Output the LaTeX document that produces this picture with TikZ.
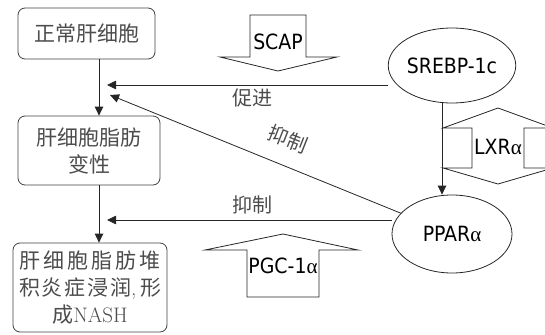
\documentclass[tikz,border=0pt]{standalone}
\usepackage{fontspec}
\newfontfamily\cjk{Noto Sans CJK SC}
\newfontfamily\lat{DejaVu Sans Condensed}
\newfontfamily\grk{Liberation Serif}
\usetikzlibrary{shapes.geometric,arrows.meta}
\begin{document}
\begin{tikzpicture}[x=1pt,y=-1pt,
  box/.style={draw=black!75,line width=0.8pt,rounded corners=7pt,inner sep=0pt,
    font=\cjk\fontsize{21}{27}\selectfont,text=black!70,align=center},
  oval/.style={draw=black!85,line width=0.8pt,ellipse,inner sep=0pt,
    minimum width=120pt,minimum height=75pt,font=\lat\fontsize{21}{25}\selectfont},
  conn/.style={draw=black!85,line width=0.8pt},
  arr/.style={conn,-{Triangle[length=9pt,width=8.5pt]}},
  lbl/.style={font=\cjk\fontsize{20}{24}\selectfont,text=black!70,inner sep=0pt},
  fat/.style={draw=black!85,line width=0.8pt,fill=white},
  fattxt/.style={font=\lat\fontsize{21}{25}\selectfont,inner sep=0pt}]
\useasboundingbox (0,0) rectangle (545,334);
% boxes
\node[box,minimum width=137pt,minimum height=51pt] (b1) at (86.5,33.5) {正常肝细胞};
\node[box,minimum width=142pt,minimum height=69pt] (b2) at (89,150.5) {肝细胞脂肪\\变性};
\node[box,minimum width=154pt,minimum height=89pt] (b3) at (90,287.5)
  {\makebox[142pt][s]{肝\hfill 细\hfill 胞\hfill 脂\hfill 肪\hfill 堆}\\
   \makebox[142pt][s]{积\hfill 炎\hfill 症\hfill 浸\hfill 润{\rmfamily,}\hfill\hfill 形}\\
   成{\rmfamily NASH}};
% ellipses
\node[oval] (srebp) at (452,65.5) {SREBP-1c};
\node[oval,minimum height=78pt] (ppar) at (452,234) {PPAR{\grk α}};
% helper coordinates
\coordinate (ax) at (99,0);
\coordinate (vx) at (442,0);
\coordinate (t1) at (107,85);
\coordinate (t2) at (110,95);
\coordinate (t3) at (107,220);
% vertical arrows
\draw[arr] (b1.south -| ax) -- (b2.north -| ax);
\draw[arr] (b2.south -| ax) -- (b3.north -| ax);
% LXR shape (behind vertical)
\draw[fat] (498,108) -- (553,128) -- (524,128) -- (524,168) -- (553,168) -- (498,184)
  -- (443,168) -- (472,168) -- (472,128) -- (443,128) -- cycle;
\node[fattxt] (lxr) at (498,147) {LXR{\grk α}};
\draw[arr] (srebp.south -| vx) -- (ppar.north -| vx);
% horizontal connectors
\draw[arr] (t1 -| srebp.west) -- (t1);
\draw[arr] (ppar) -- (t2);
\draw[arr] (t3 -| ppar.west) -- (t3);
% labels
\node[lbl] (l1) at (252,98) {促进};
\node[lbl,rotate=-21.6] (l2) at (288,139) {抑制};
\node[lbl] (l3) at (252,205) {抑制};
% SCAP down arrow
\draw[fat] (250,15) -- (306,15) -- (306,57) -- (337,57) -- (278,71) -- (220,57) -- (250,57) -- cycle;
\node[fattxt] (scap) at (278,42) {SCAP};
% PGC-1a up arrow
\draw[fat] (283,234) -- (358,250) -- (319,250) -- (319,297) -- (247,297) -- (247,250) -- (205,250) -- cycle;
\node[fattxt] (pgc) at (283,266) {PGC-1{\grk α}};
\end{tikzpicture}
\end{document}
